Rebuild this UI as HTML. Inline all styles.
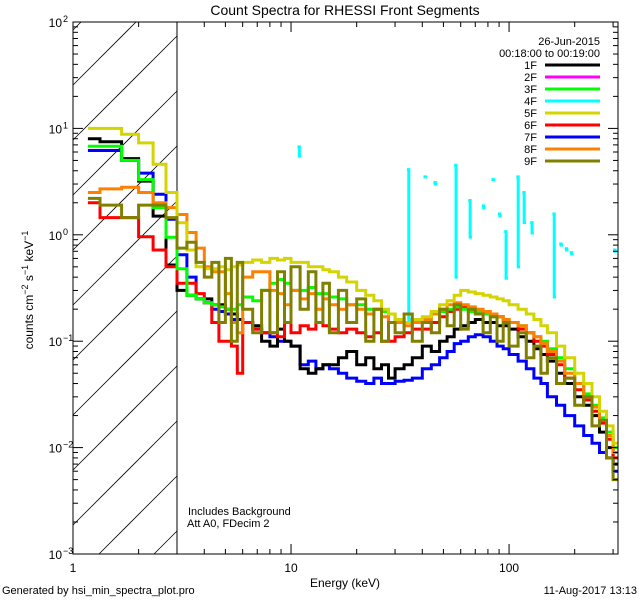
<!DOCTYPE html>
<html><head><meta charset="utf-8"><style>
html,body{margin:0;padding:0;background:#fff;width:640px;height:600px;overflow:hidden}
svg{display:block;font-family:"Liberation Sans",sans-serif}
</style></head><body>
<svg id="chart" width="640" height="600" viewBox="0 0 640 600" xmlns="http://www.w3.org/2000/svg">
<defs><clipPath id="plotclip"><rect x="73" y="22" width="545" height="532"/></clipPath></defs>
<rect width="640" height="600" fill="#fff"/>
<text x="345" y="15" font-size="14" text-anchor="middle">Count Spectra for RHESSI Front Segments</text>
<g id="hatch"></g>
<line x1="177" y1="22" x2="177" y2="554" stroke="#000" stroke-width="1"/>
<g id="series" clip-path="url(#plotclip)"></g>
<g id="axes"></g>
<rect x="73" y="22" width="545" height="532" fill="none" stroke="#000" stroke-width="1"/>
<text transform="translate(33,290) rotate(-90)" font-size="12" text-anchor="middle">counts cm<tspan dy="-5" font-size="9">−2</tspan><tspan dy="5"> s</tspan><tspan dy="-5" font-size="9">−1</tspan><tspan dy="5"> keV</tspan><tspan dy="-5" font-size="9">−1</tspan></text>
<text x="345" y="587" font-size="12" text-anchor="middle">Energy (keV)</text>
<text x="2" y="594" font-size="11">Generated by hsi_min_spectra_plot.pro</text>
<text x="637" y="594" font-size="11" text-anchor="end">11-Aug-2017 13:13</text>
<text x="188" y="515" font-size="11">Includes Background</text>
<text x="187" y="527" font-size="11">Att A0, FDecim 2</text>
<text x="600" y="45" font-size="11" text-anchor="end">26-Jun-2015</text>
<text x="600" y="57" font-size="11" text-anchor="end">00:18:00 to 00:19:00</text>
<g id="legend"></g>
</svg>
<script>
const edges=[1.17,1.33,1.67,2.0,2.33,2.67,3.0,3.33,3.67,4.0,4.33,4.67,5.0,5.33,5.67,6.0,6.67,7.33,8.0,8.67,9.33,10,11,12,13,14,15,16.5,18,20,22,24,26,28,30,33,36,40,44,48,52,56,60,65,70,76,82,88,94,100,110,120,130,140,150,165,180,200,220,240,260,280,300,316];
const seriesNames=["1F","2F","3F","4F","5F","6F","7F","8F","9F"];
const seriesColors=["#000000","#ff00ff","#00ff00","#00ffff","#d4d400","#ff0000","#0000ff","#ff8000","#808000"];
const s1F=[8,7.5,5.2,3.2,1.5,0.52,0.3,0.27,0.25,0.25,0.22,0.22,0.2,0.18,0.16,0.15,0.14,0.1,0.09,0.13,0.1,0.09,0.055,0.05,0.055,0.06,0.06,0.07,0.08,0.06,0.07,0.055,0.06,0.045,0.055,0.06,0.07,0.09,0.08,0.1,0.11,0.13,0.14,0.15,0.16,0.15,0.15,0.14,0.14,0.13,0.11,0.1,0.085,0.075,0.065,0.05,0.04,0.03,0.025,0.02,0.014,0.01,0.007];
const s3F=[6.8,6.8,5,3.3,1.8,0.95,0.48,0.27,0.25,0.23,0.22,0.21,0.2,0.2,0.22,0.26,0.24,0.3,0.35,0.38,0.35,0.3,0.3,0.32,0.28,0.28,0.26,0.25,0.22,0.22,0.2,0.2,0.19,0.18,0.16,0.15,0.15,0.16,0.18,0.19,0.2,0.21,0.2,0.19,0.19,0.18,0.17,0.17,0.16,0.15,0.14,0.12,0.11,0.1,0.085,0.07,0.055,0.04,0.032,0.025,0.019,0.014,0.01];
const s5F=[10,10,8.8,7.3,4.6,2.5,1.3,0.72,0.5,0.48,0.48,0.5,0.47,0.5,0.52,0.55,0.58,0.55,0.6,0.58,0.6,0.55,0.55,0.5,0.5,0.47,0.45,0.4,0.36,0.3,0.27,0.24,0.2,0.18,0.16,0.15,0.16,0.17,0.19,0.22,0.24,0.27,0.3,0.29,0.28,0.27,0.26,0.25,0.24,0.22,0.2,0.18,0.16,0.14,0.12,0.09,0.07,0.05,0.04,0.03,0.022,0.016,0.011];
const s6F=[2,1.45,1.45,0.96,0.72,0.5,0.35,0.35,0.28,0.23,0.15,0.1,0.1,0.09,0.05,0.15,0.13,0.12,0.12,0.11,0.15,0.12,0.14,0.13,0.15,0.14,0.13,0.12,0.13,0.12,0.11,0.12,0.1,0.1,0.11,0.12,0.13,0.13,0.15,0.17,0.19,0.2,0.21,0.2,0.19,0.18,0.18,0.17,0.16,0.15,0.13,0.12,0.1,0.09,0.075,0.06,0.045,0.035,0.028,0.022,0.017,0.012,0.008];
const s7F=[6.2,6.2,5,3.8,2.4,1.4,0.65,0.4,0.25,0.23,0.2,0.19,0.18,0.16,0.16,0.15,0.13,0.12,0.11,0.1,0.1,0.09,0.06,0.065,0.055,0.06,0.055,0.05,0.045,0.042,0.04,0.045,0.04,0.04,0.042,0.043,0.045,0.055,0.06,0.07,0.08,0.095,0.1,0.11,0.115,0.11,0.1,0.09,0.085,0.075,0.065,0.055,0.045,0.04,0.03,0.025,0.02,0.016,0.013,0.011,0.009,0.008,0.006];
const s8F=[2.5,2.7,2.8,2.5,2.0,1.8,1.55,1.05,0.75,0.5,0.45,0.45,0.28,0.15,0.12,0.4,0.45,0.45,0.3,0.28,0.22,0.3,0.25,0.28,0.2,0.25,0.22,0.2,0.22,0.2,0.18,0.2,0.17,0.15,0.15,0.14,0.15,0.16,0.18,0.2,0.22,0.23,0.22,0.21,0.2,0.19,0.18,0.17,0.16,0.15,0.14,0.12,0.11,0.095,0.08,0.065,0.05,0.04,0.03,0.024,0.018,0.013,0.009];
const s9F=[2.2,1.9,1.45,1.9,1.9,1.45,0.75,0.85,0.55,0.4,0.55,0.15,0.6,0.1,0.55,0.2,0.12,0.3,0.12,0.45,0.15,0.5,0.2,0.45,0.15,0.35,0.12,0.3,0.15,0.25,0.1,0.2,0.1,0.15,0.12,0.18,0.1,0.15,0.12,0.2,0.14,0.22,0.13,0.2,0.18,0.12,0.17,0.1,0.15,0.09,0.12,0.07,0.09,0.05,0.07,0.04,0.045,0.025,0.03,0.016,0.018,0.008,0.005];
const cyanE=[10.7,34,40.5,45,56,65,75,83,89,95,108,115,125,158,170,180,190,300];
const cyanHi=[6.7,4.1,3.5,3.1,4.5,2.1,1.87,3.3,1.57,1.07,3.5,2.5,1.3,1.57,0.82,0.74,0.68,0.72];
const cyanLo=[5.5,0.16,3.5,3.0,0.4,0.95,1.8,3.3,1.5,0.39,0.5,1.3,1.04,0.26,0.8,0.72,0.66,0.7];
const yTickExp=[2,1,0,-1,-2,-3];
const xTickVals=[1,10,100];
const xTickLabels=["1","10","100"];

const X0=73,X1=618,Y0=22,Y1=554,XMIN=0,XMAX=Math.log10(316),YMIN=-3,YMAX=2;
function xs(e){return X0+(Math.log10(e)-XMIN)/(XMAX-XMIN)*(X1-X0);}
function ys(v){return Y1-(Math.log10(v)-YMIN)/(YMAX-YMIN)*(Y1-Y0);}
const NS="http://www.w3.org/2000/svg";
function mk(tag,attrs,parent){const el=document.createElementNS(NS,tag);for(const k in attrs)el.setAttribute(k,attrs[k]);parent.appendChild(el);return el;}
const hatch=document.getElementById('hatch');
const HX0=73,HX1=177;
for(let i=-12;i<12;i++){
  const b=85+i*55; // y at x=HX0; line y=b-(x-HX0)
  let xa=Math.max(HX0,HX0+(b-Y1)), xb=Math.min(HX1,HX0+(b-Y0));
  if(xb<=xa)continue;
  const l=mk('line',{x1:xa,y1:b-(xa-HX0),x2:xb,y2:b-(xb-HX0),stroke:'#000','stroke-width':0.8},hatch);
  
  
}
const seriesG=document.getElementById('series');
const dataMap={"1F":s1F,"3F":s3F,"5F":s5F,"6F":s6F,"7F":s7F,"8F":s8F,"9F":s9F};
function stepPath(vals){
  let d='M'+xs(edges[0]).toFixed(1)+' '+ys(vals[0]).toFixed(1);
  for(let i=0;i<vals.length;i++){
    if(i>0)d+=' V'+ys(vals[i]).toFixed(1);
    d+=' H'+Math.min(X1,xs(edges[i+1])).toFixed(1);
  }
  return d;
}
const cg=mk('g',{},seriesG);


for(let i=0;i<cyanE.length;i++){
  const xa=xs(cyanE[i]),xb=xs(cyanE[i]*1.02),xc=Math.min(X1-1,xs(cyanE[i]*1.04));
  const d='M'+xa+' '+ys(cyanHi[i])+' H'+xb+' V'+ys(cyanLo[i])+' H'+xc;
  const p=mk('path',{d:d,fill:'none',stroke:'#00ffff','stroke-width':3},cg);
  
  
}
const order=["7F","1F","6F","3F","8F","5F","9F"];
order.forEach(n=>{
  const c=seriesColors[seriesNames.indexOf(n)];
  const p=mk('path',{d:stepPath(dataMap[n]),fill:'none',stroke:c,'stroke-width':3,'stroke-linejoin':'miter'},seriesG);
  
  
});
const ax=document.getElementById('axes');
for(let e=-3;e<2;e++){
  for(let m=1;m<10;m++){
    const y=ys(m*Math.pow(10,e));
    const len=m===1?10:5;
    const a=mk('line',{x1:X0,y1:y,x2:X0+len,y2:y,stroke:'#000'},ax);
    
    
    const b=mk('line',{x1:X1,y1:y,x2:X1-len,y2:y,stroke:'#000'},ax);
    
    
  }
}
yTickExp.forEach(e=>{
  const y=ys(Math.pow(10,e));
  const t=mk('text',{x:62,y:y+5,'font-size':12,'text-anchor':'end'},ax);
  
  
  t.textContent='10';
  const s=mk('tspan',{x:63,dy:-5,'font-size':9,'text-anchor':'start'},t);
  s.textContent=(e<0?'−':'')+Math.abs(e);
});
for(let e=0;e<3;e++){
  for(let m=1;m<10;m++){
    const v=m*Math.pow(10,e);
    if(v>316)continue;
    const x=xs(v),len=m===1?10:5;
    const a=mk('line',{x1:x,y1:Y1,x2:x,y2:Y1-len,stroke:'#000'},ax);
    
    
    const b=mk('line',{x1:x,y1:Y0,x2:x,y2:Y0+len,stroke:'#000'},ax);
    
    
  }
}
xTickVals.forEach((v,i)=>{
  const t=mk('text',{x:xs(v),y:572,'font-size':12,'text-anchor':'middle'},ax);
  
  
  t.textContent=xTickLabels[i];
});
const lg=document.getElementById('legend');
seriesNames.forEach((n,i)=>{
  const y=65+i*12;
  const t=mk('text',{x:537,y:y+4,'font-size':11,'text-anchor':'end'},lg);
  
  
  t.textContent=n;
  const l=mk('line',{x1:545,y1:y,x2:600,y2:y,stroke:seriesColors[i],'stroke-width':3},lg);
  
  
});
</script>
</body></html>
